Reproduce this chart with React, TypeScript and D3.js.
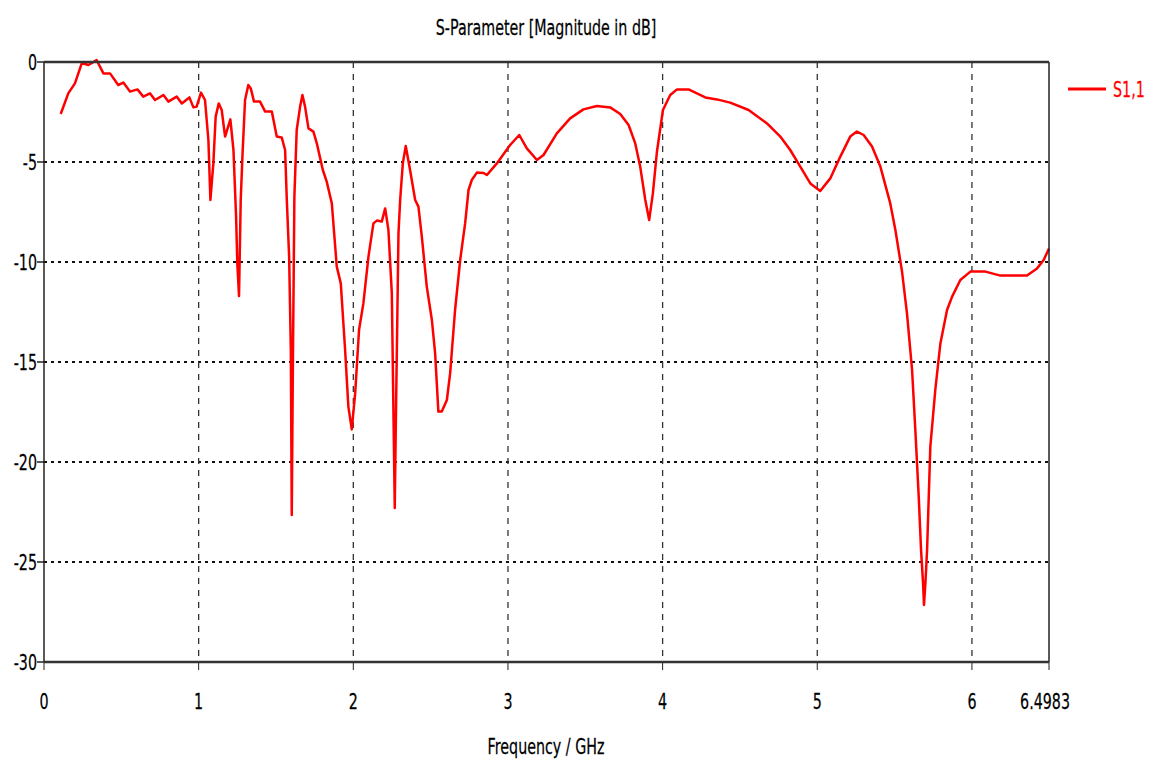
import React from "react";
import * as d3 from "d3";

const freqGHz = [
  0.108, 0.157, 0.2, 0.244, 0.265, 0.287, 0.31, 0.34, 0.384, 0.427, 0.48, 0.513, 0.556, 0.604, 0.642, 0.686, 0.718, 0.772, 0.804, 0.858, 0.891, 0.94, 0.966, 0.987,
  1.015, 1.041, 1.063, 1.076, 1.095, 1.11, 1.13, 1.149, 1.171, 1.205, 1.225, 1.242, 1.25, 1.261, 1.272, 1.283, 1.3, 1.321, 1.337, 1.358, 1.397, 1.43, 1.473,
  1.505, 1.537, 1.559, 1.57, 1.585, 1.596, 1.602, 1.609, 1.619, 1.634, 1.656, 1.671, 1.688, 1.71, 1.742, 1.764, 1.803, 1.828, 1.861, 1.893, 1.919, 1.947, 1.968, 1.99,
  2.012, 2.037, 2.065, 2.098, 2.13, 2.152, 2.184, 2.206, 2.227, 2.249, 2.262, 2.268, 2.275, 2.285, 2.292, 2.303, 2.32, 2.339, 2.367, 2.4, 2.421, 2.443, 2.475,
  2.508, 2.529, 2.55, 2.572, 2.605, 2.626, 2.658, 2.691, 2.723, 2.745, 2.766, 2.799, 2.842, 2.864, 2.928,
  3.014, 3.073, 3.122, 3.187, 3.23, 3.316, 3.402, 3.488, 3.575, 3.661, 3.726, 3.78, 3.823, 3.855, 3.888, 3.913, 3.937, 3.963,
  4.002, 4.049, 4.093, 4.168, 4.222, 4.276, 4.351, 4.437, 4.556, 4.675, 4.761, 4.825, 4.89, 4.955,
  5.019, 5.084, 5.149, 5.213, 5.256, 5.3, 5.354, 5.408, 5.472, 5.505, 5.548, 5.58, 5.613, 5.634, 5.656, 5.671, 5.684, 5.69, 5.699, 5.71, 5.731, 5.763, 5.796, 5.839, 5.872, 5.925, 5.99,
  6.087, 6.184, 6.27, 6.356, 6.421, 6.464, 6.4983,
];

const s11dB = [
  -2.6, -1.57, -1.07, -0.07, -0.1, -0.15, -0.05, 0.1, -0.57, -0.57, -1.15, -1.03, -1.48, -1.37, -1.73, -1.57, -1.9, -1.65, -1.98, -1.73, -2.07, -1.77, -2.27, -2.23,
  -1.53, -1.9, -3.9, -6.9, -5.07, -2.73, -2.07, -2.4, -3.73, -2.87, -4.4, -7.73, -10.07, -11.7, -6.9, -4.73, -1.9, -1.15, -1.32, -1.98, -1.98, -2.48, -2.48,
  -3.73, -3.77, -4.4, -6.9, -9.73, -14.4, -22.65, -15.4, -6.73, -3.4, -2.23, -1.65, -2.23, -3.32, -3.48, -4.07, -5.4, -5.98, -7.07, -10.23, -11.07, -14.4, -17.23, -18.37,
  -16.57, -13.4, -12.07, -9.73, -8.07, -7.93, -7.98, -7.32, -8.4, -11.57, -18.9, -22.3, -18, -12.5, -8.57, -6.9, -5.07, -4.2, -5.4, -6.9, -7.23, -8.73, -11.23,
  -12.9, -14.57, -17.48, -17.48, -16.9, -15.57, -12.4, -9.9, -8.07, -6.4, -5.9, -5.53, -5.55, -5.65, -5.07,
  -4.15, -3.65, -4.32, -4.9, -4.65, -3.57, -2.82, -2.37, -2.2, -2.27, -2.6, -3.15, -4.07, -5.23, -6.9, -7.9, -6.57, -4.5,
  -2.4, -1.65, -1.37, -1.37, -1.57, -1.77, -1.87, -2.03, -2.4, -3.07, -3.73, -4.4, -5.23, -6.07,
  -6.45, -5.82, -4.73, -3.73, -3.48, -3.65, -4.23, -5.23, -7.07, -8.4, -10.48, -12.57, -15.4, -18.4, -21.73, -24.4, -26.07, -27.15, -26.07, -24.4, -19.23, -16.4, -14.07, -12.4, -11.73, -10.9, -10.48,
  -10.48, -10.68, -10.68, -10.68, -10.32, -9.9, -9.32,
];

const xTicks = [0, 1, 2, 3, 4, 5, 6];
const xMaxLabel = "6.4983";
const yTicks = [0, -5, -10, -15, -20, -25, -30];
const title = "S-Parameter [Magnitude in dB]";
const xTitle = "Frequency / GHz";
const seriesName = "S1,1";

const W = 1153;
const H = 761;
const L = 44, R = 1049, T = 62, B = 662;
const FONT = "DejaVu Sans, Verdana, sans-serif";
const SX = 0.68;

function T_(props: { x: number; y: number; anchor?: string; size?: number; fill?: string; children: React.ReactNode }) {
  const { x, y, anchor = "middle", size = 21, fill = "#000", children } = props;
  return (
    <text
      transform={`translate(${x},${y}) scale(${SX},1)`}
      textAnchor={anchor}
      fontFamily={FONT}
      fontSize={size}
      fill={fill}
      stroke={fill}
      strokeWidth={0.25}
    >
      {children}
    </text>
  );
}

export default function App() {
  const x = d3.scaleLinear().domain([0, 6.4983]).range([L, R]);
  const y = d3.scaleLinear().domain([-30, 0]).range([B, T]);
  const pts = freqGHz.map((f, i) => [f, s11dB[i]] as [number, number]);
  const line = d3
    .line<[number, number]>()
    .x((d) => x(d[0]))
    .y((d) => y(d[1]));

  return (
    <svg width={W} height={H} style={{ position: "absolute", left: 0, top: 0, background: "#fff" }}>
      <rect x={0} y={0} width={W} height={H} fill="#fff" />
      {/* grid */}
      {yTicks.filter((t) => t !== 0 && t !== -30).map((t) => (
        <line key={"gy" + t} x1={L} x2={R} y1={y(t)} y2={y(t)} stroke="#111" strokeWidth={2} strokeDasharray="3,4" />
      ))}
      {xTicks.filter((t) => t !== 0).map((t) => (
        <line key={"gx" + t} x1={x(t)} x2={x(t)} y1={T} y2={B} stroke="#333" strokeWidth={1.3} strokeDasharray="6,6" />
      ))}
      {/* ticks */}
      {yTicks.map((t) => (
        <line key={"ty" + t} x1={L - 7} x2={L} y1={y(t)} y2={y(t)} stroke="#222" strokeWidth={1.5} />
      ))}
      {xTicks.concat([6.4983]).map((t) => (
        <line key={"tx" + t} x1={x(t)} x2={x(t)} y1={B} y2={B + 8} stroke="#222" strokeWidth={1} />
      ))}
      {/* curve */}
      <path d={line(pts) || ""} fill="none" stroke="#ff0000" strokeWidth={2.5} strokeLinejoin="round" />
      {/* frame */}
      <line x1={L} x2={L} y1={T} y2={B} stroke="#222" strokeWidth={1.5} />
      <line x1={R} x2={R} y1={T} y2={B} stroke="#222" strokeWidth={1.5} />
      <line x1={L} x2={R} y1={T} y2={T} stroke="#333" strokeWidth={2.5} />
      <line x1={L} x2={R} y1={B} y2={B} stroke="#333" strokeWidth={2.5} />
      {/* labels */}
      {yTicks.map((t) => (
        <T_ key={"ly" + t} x={37} y={y(t) + 8} anchor="end">
          {String(t)}
        </T_>
      ))}
      {xTicks.map((t) => (
        <T_ key={"lx" + t} x={x(t)} y={709}>
          {String(t)}
        </T_>
      ))}
      <T_ x={1045} y={709}>{xMaxLabel}</T_>
      <T_ x={546} y={35}>{title}</T_>
      <T_ x={546} y={754}>{xTitle}</T_>
      {/* legend */}
      <line x1={1068} x2={1106} y1={89} y2={89} stroke="#ff0000" strokeWidth={3} />
      <T_ x={1113} y={97} anchor="start" fill="#ff0000">{seriesName}</T_>
    </svg>
  );
}
